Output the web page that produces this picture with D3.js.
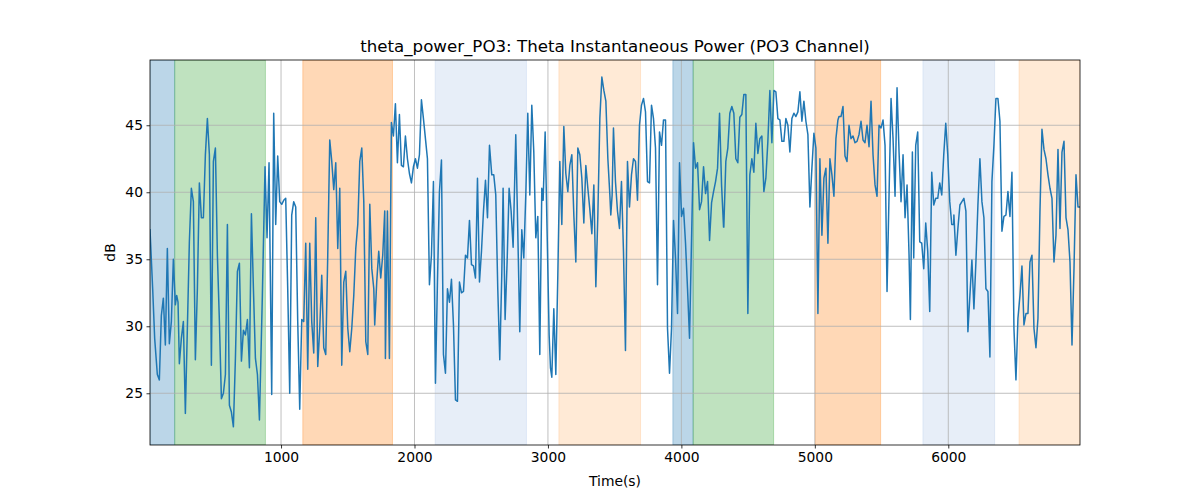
<!DOCTYPE html>
<html><head><meta charset="utf-8">
<script src="https://cdn.jsdelivr.net/npm/d3@7"></script>
<style>body{margin:0;background:#fff;} text{font-family:"DejaVu Sans",sans-serif;}</style>
</head><body><svg id="c" width="1200" height="500"></svg>
<script>
const times = [18,38,53,73,88,103,118,133,148,163,178,193,208,218,228,238,253,268,283,298,313,328,343,358,373,388,403,418,433,448,463,478,493,508,523,538,553,568,583,598,613,628,643,658,673,688,703,718,733,748,763,778,793,808,823,838,
860,880,895,910,930,945,960,975,990,1005,1020,1035,1050,1065,1080,1095,1110,1125,1140,1155,1170,1185,1200,1215,1230,1245,1260,1275,1290,1305,1320,1335,1350,1365,1380,1395,1410,1425,1440,1455,1470,1485,1500,1515,1530,1545,1560,1575,1590,1605,1620,1635,1650,1665,1680,1695,
1702,1717,1732,1747,1762,1777,1782,1797,1812,1827,1842,1857,1872,1887,1902,1917,1932,1947,1962,1977,1992,2007,2022,2037,2052,2067,2082,2097,2112,2127,2142,2157,2172,2187,2202,2217,2232,2247,2262,2277,2292,2307,2322,2337,2352,2367,2382,2397,2412,2427,2442,2457,2472,2487,2502,2517,2532,2547,2562,
2579,2594,2609,2624,2639,2654,2664,2679,2694,2709,2724,2739,2759,2774,2789,2804,2819,2834,2849,2864,2879,2894,2909,2924,2939,2954,2964,2979,2994,3009,3019,3029,3044,3059,3074,3089,3104,3119,3134,3149,3164,3179,3194,3209,3224,3239,3254,3269,3284,3299,3314,3329,3344,3359,3374,3389,3404,3419,3434,3449,3464,
3471,3481,3491,3506,3521,3536,3551,3566,3581,3596,3611,3626,3641,3656,3671,3686,3701,3716,3731,3746,3761,3776,3791,3806,3821,3836,3851,3866,3881,3896,3911,3926,3941,3956,3971,3986,4001,4016,4031,4046,4061,4091,4106,4121,4136,4151,4166,4181,4196,4211,4226,4241,4256,4271,4286,4301,4316,
4318,4333,4348,4363,4378,4393,4408,4423,4438,4453,4468,4483,4498,4513,4528,4543,4558,4573,4588,4603,4618,4633,4648,4663,4678,4693,4708,4723,4738,4753,4768,4783,4798,4813,4828,4843,4858,4873,4888,4903,4918,4933,4948,4963,4978,4993,5008,5023,5038,5053,5068,5083,5098,5113,5128,5143,5158,5173,
5181,5196,5211,5226,5241,5256,5271,5286,5301,5316,5331,5346,5361,5376,5391,5406,5421,5436,5451,5466,5481,5496,5511,5526,5541,5556,5571,5586,5601,5616,5631,5646,5661,5676,5691,5706,5716,5731,5741,5756,5771,5786,5801,5816,5831,5846,5861,5876,5891,5906,5921,5936,5951,5966,5981,5996,6011,6026,6041,
6042,6057,6072,6087,6102,6117,6132,6147,6162,6177,6192,6207,6222,6237,6252,6267,6282,6297,6312,6327,6342,6357,6372,6387,6402,6417,6432,6447,6462,6477,6492,6507,6522,6537,6552,6567,6582,6597,6612,6627,6642,6657,6672,6687,6702,6717,6732,6747,6762,6777,6792,6807,6822,6837,6852,6867,6882,6897,6912,6927,6942,6957,6972,6987];
const power = [37.2,32.8,29.1,26.4,26.0,30.8,32.1,28.6,35.8,28.7,30.35,35.0,31.6,32.3,31.8,27.2,29.1,30.35,23.5,29.85,36.3,40.3,39.3,27.5,32.8,40.7,38.1,38.1,42.8,45.5,42.8,27.1,42.3,43.3,35.3,30.35,24.6,25.0,26.4,37.6,24.1,23.6,22.5,27.6,34.1,34.7,27.4,29.7,29.35,30.5,26.9,38.4,32.8,27.6,26.4,23.0,
32.3,41.9,36.6,42.2,24.9,45.9,37.6,42.7,39.3,39.1,39.4,39.55,32.8,25.0,38.3,39.3,38.9,30.35,23.8,30.5,30.35,36.2,26.8,36.2,30.35,28.0,38.1,27.0,29.85,33.8,28.4,27.9,35.3,43.9,42.3,40.2,42.2,35.8,40.3,27.1,33.3,34.1,29.85,28.1,29.85,32.3,35.8,37.6,42.3,43.3,39.3,28.85,27.9,39.1,34.3,32.8,
30.1,33.3,35.6,33.6,35.3,38.6,27.6,38.6,27.6,45.2,44.2,46.6,42.2,45.8,42.0,41.9,44.2,42.5,41.4,40.7,41.9,42.5,41.8,42.8,46.9,45.5,44.0,42.5,33.1,35.3,40.8,25.75,33.3,40.05,42.4,27.9,26.5,32.8,31.8,33.5,30.1,24.5,24.4,33.3,32.5,32.6,35.3,35.1,37.9,34.6,34.5,33.6,41.05,33.3,35.6,38.6,40.9,38.1,43.5,
41.3,41.3,39.8,32.8,27.5,33.8,40.3,30.5,34.8,40.3,38.6,35.9,44.3,37.1,29.6,37.2,35.1,39.8,45.9,39.8,46.5,43.0,36.6,38.2,27.9,40.3,39.4,44.5,36.9,29.35,26.9,26.2,31.3,26.4,33.8,42.3,37.6,44.9,41.4,40.05,42.0,42.8,38.3,34.8,43.3,42.8,41.05,37.7,42.0,40.3,38.7,36.9,40.55,32.95,38.3,45.5,48.6,47.6,46.8,42.5,39.8,
38.3,39.8,44.8,40.8,38.6,37.3,40.8,35.6,28.2,42.3,38.9,41.3,42.5,42.3,39.4,45.0,46.5,47.0,46.0,40.8,40.7,46.5,45.5,43.3,33.1,44.5,43.5,45.4,45.4,29.85,26.5,29.85,37.9,35.1,30.95,42.2,38.2,38.8,36.2,32.8,29.1,43.7,41.8,42.2,38.7,39.3,41.9,39.9,40.8,36.4,39.2,40.05,40.8,41.8,45.9,40.55,37.4,
37.4,42.3,43.3,45.9,46.4,45.9,42.5,42.2,45.6,45.8,47.3,47.3,30.95,41.3,42.5,41.5,45.15,42.9,44.0,44.2,40.05,41.05,43.8,47.6,43.7,47.6,47.5,45.5,45.4,43.8,43.8,45.5,45.0,43.0,45.5,45.9,45.65,46.0,47.5,45.3,46.8,45.3,44.3,38.9,41.8,44.4,43.3,30.95,42.5,36.8,41.05,41.8,36.2,42.5,41.3,39.7,44.0,45.4,
45.65,45.65,46.4,42.7,42.3,45.0,44.0,44.2,43.7,43.8,44.3,45.3,43.9,43.7,45.0,43.4,46.8,42.8,40.55,39.7,45.0,44.8,45.4,43.5,32.6,39.8,47.0,44.0,39.7,47.8,43.0,39.3,42.8,38.1,40.55,35.3,30.5,43.0,35.1,43.5,44.5,36.3,36.2,34.3,37.7,35.6,31.1,41.5,39.05,39.55,39.55,40.7,39.8,42.8,45.15,42.8,39.3,37.6,37.6,
38.3,35.3,37.3,39.05,39.3,39.55,38.6,29.6,32.3,34.95,31.3,34.8,39.05,42.5,39.3,38.1,32.8,32.6,27.7,40.8,43.5,47.0,47.0,45.3,37.1,38.2,38.3,40.05,38.2,41.5,29.85,26.0,30.6,32.3,34.5,30.1,30.95,30.95,34.8,35.3,29.85,28.4,30.6,38.6,44.7,43.2,42.5,41.3,40.3,39.55,34.8,36.8,43.2,37.3,43.0,43.8,38.1,37.2,34.8,28.6,34.3,41.3,38.9,38.9];

const spanStart = [18, 203, 1163, 2155, 3082, 3936, 4088, 5003, 5810, 6530];
const spanEnd   = [203, 883, 1835, 2839, 3694, 4088, 4691, 5493, 6347, 6987];
const spanKind  = ["blue", "green", "orange", "lightblue", "lightorange", "blue", "green", "orange", "lightblue", "lightorange"];
const xTicks = [1000, 2000, 3000, 4000, 5000, 6000];
const yTicks = [25, 30, 35, 40, 45];
const xDomain = [18, 6987];
const yDomain = [21.14, 49.87];
const titleText = "theta_power_PO3: Theta Instantaneous Power (PO3 Channel)";

const spanStyle = {
  blue: {c: "#1f77b4", a: 0.3},
  green: {c: "#2ca02c", a: 0.3},
  orange: {c: "#ff7f0e", a: 0.3},
  lightblue: {c: "#aec7e8", a: 0.3},
  lightorange: {c: "#ffbb78", a: 0.3}
};

const svg = d3.select("#c");
const m = {l: 150, r: 1080, t: 60, b: 445};
const x = d3.scaleLinear().domain(xDomain).range([m.l, m.r]);
const y = d3.scaleLinear().domain(yDomain).range([m.b, m.t]);

svg.append("defs").append("clipPath").attr("id", "pc").append("rect")
  .attr("x", m.l).attr("y", m.t).attr("width", m.r - m.l).attr("height", m.b - m.t);

const g = svg.append("g").attr("clip-path", "url(#pc)");
g.selectAll("rect.span").data(spanStart.map((s, i) => ({s, e: spanEnd[i], k: spanKind[i]})))
  .enter().append("rect")
  .attr("x", d => x(d.s)).attr("width", d => x(d.e) - x(d.s))
  .attr("y", m.t).attr("height", m.b - m.t)
  .attr("fill", d => spanStyle[d.k].c).attr("fill-opacity", d => spanStyle[d.k].a)
  .attr("stroke", d => spanStyle[d.k].c).attr("stroke-opacity", d => spanStyle[d.k].a).attr("stroke-width", 1);

// grid
g.selectAll("line.gx").data(xTicks).enter().append("line")
  .attr("x1", d => x(d)).attr("x2", d => x(d)).attr("y1", m.t).attr("y2", m.b)
  .attr("stroke", "#b0b0b0").attr("stroke-width", 0.8);
g.selectAll("line.gy").data(yTicks).enter().append("line")
  .attr("y1", d => y(d)).attr("y2", d => y(d)).attr("x1", m.l).attr("x2", m.r)
  .attr("stroke", "#b0b0b0").attr("stroke-width", 0.8);

const pts = times.map((t, i) => [t, power[i]]);
g.append("path").datum(pts)
  .attr("fill", "none").attr("stroke", "#1f77b4").attr("stroke-width", 1.5)
  .attr("stroke-linejoin", "round").attr("stroke-linecap", "square")
  .attr("d", d3.line().x(d => x(d[0])).y(d => y(d[1])));

// axes
const xa = svg.append("g").attr("transform", `translate(0,${m.b})`)
  .call(d3.axisBottom(x).tickValues(xTicks).tickSize(3.5).tickPadding(3.5).tickFormat(d3.format("d")));
const ya = svg.append("g").attr("transform", `translate(${m.l},0)`)
  .call(d3.axisLeft(y).tickValues(yTicks).tickSize(3.5).tickPadding(3.5));
[xa, ya].forEach(a => {
  a.select(".domain").remove();
  a.selectAll("line").attr("stroke", "#000").attr("stroke-width", 0.8);
  a.selectAll("text").attr("font-size", "13.89px").attr("fill", "#000").attr("font-family", "DejaVu Sans");
});
svg.append("rect").attr("x", m.l).attr("y", m.t).attr("width", m.r - m.l).attr("height", m.b - m.t)
  .attr("fill", "none").attr("stroke", "#000").attr("stroke-width", 0.8);

svg.append("text").attr("x", (m.l + m.r) / 2).attr("y", 52).attr("text-anchor", "middle")
  .attr("font-size", "16.67px").text(titleText);
svg.append("text").attr("x", (m.l + m.r) / 2).attr("y", 486).attr("text-anchor", "middle")
  .attr("font-size", "13.89px").text("Time(s)");
svg.append("text").attr("transform", `translate(115,${(m.t + m.b) / 2}) rotate(-90)`).attr("text-anchor", "middle")
  .attr("font-size", "13.89px").text("dB");
</script></body></html>
